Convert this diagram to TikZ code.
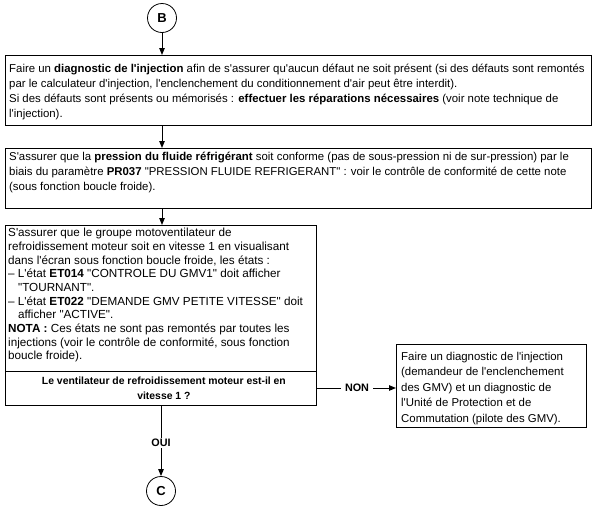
\documentclass[tikz,border=0pt]{standalone}
\usepackage{fontspec}
\setmainfont{Liberation Sans}[Ligatures=TeXOff]
\usetikzlibrary{arrows.meta}
\begin{document}
\begin{tikzpicture}[x=1pt,y=-1pt,
  box/.style={draw, line width=0.8pt, inner sep=0pt, anchor=north west},
  txt/.style={font=\fontsize{11.4}{15}\selectfont, align=left, inner sep=0pt},
  conn/.style={draw, circle, line width=0.8pt, minimum size=29pt, inner sep=0pt, font=\fontsize{13}{14}\selectfont\bfseries},
  arr/.style={line width=1pt, -{Triangle[length=7pt,width=5.5pt]}},
  ln/.style={line width=0.8pt},
  lab/.style={font=\fontsize{10.8}{12}\selectfont\bfseries, inner sep=1pt}]
\useasboundingbox (0,0) rectangle (595,509);
\node[conn] (B) at (162,18) {B};
\node[box, minimum width=586pt, minimum height=70pt] (b1) at (5,55) {};
\node[txt, anchor=north west] (t1) at (9,64) {Faire un \textbf{diagnostic de l'injection} afin de s'assurer qu'aucun défaut ne soit présent (si des défauts sont remontés\\
par le calculateur d'injection, l'enclenchement du conditionnement d'air peut être interdit).\\
Si des défauts sont présents ou mémorisés : \textbf{effectuer les réparations nécessaires} (voir note technique de\\
l'injection).};
\node[box, minimum width=586pt, minimum height=60pt] (b2) at (5,148) {};
\node[txt, anchor=north west] (t2) at (9,152) {S'assurer que la \textbf{pression du fluide réfrigérant} soit conforme (pas de sous-pression ni de sur-pression) par le\\
biais du paramètre \textbf{PR037} "PRESSION FLUIDE REFRIGERANT" : voir le contrôle de conformité de cette note\\
(sous fonction boucle froide).};
\node[box, minimum width=311pt, minimum height=146pt] (b3) at (5,225) {};
\node[txt, anchor=north west, font=\fontsize{11.7}{13.7}\selectfont] (t3) at (8,228) {S'assurer que le groupe motoventilateur de\\
refroidissement moteur soit en vitesse 1 en visualisant\\
dans l'écran sous fonction boucle froide, les états :\\
– L'état \textbf{ET014} "CONTROLE DU GMV1" doit afficher\\
\hspace*{0.85em}"TOURNANT".\\
– L'état \textbf{ET022} "DEMANDE GMV PETITE VITESSE" doit\\
\hspace*{0.85em}afficher "ACTIVE".\\
\textbf{NOTA :} Ces états ne sont pas remontés par toutes les\\
injections (voir le contrôle de conformité, sous fonction\\
boucle froide).};
\node[box, minimum width=311pt, minimum height=34pt] (q3) at (5,371) {};
\node[txt, align=center, font=\fontsize{10.4}{15}\selectfont\bfseries] (tq) at ([xshift=3pt]q3.center) {Le ventilateur de refroidissement moteur est-il en\\vitesse 1 ?};
\node[box, minimum width=190pt, minimum height=83pt] (b4) at (396,344) {};
\node[txt, anchor=north west, font=\fontsize{11.4}{15.5}\selectfont] (t4) at (401,352) {Faire un diagnostic de l'injection\\
(demandeur de l'enclenchement\\
des GMV) et un diagnostic de\\
l'Unité de Protection et de\\
Commutation (pilote des GMV).};
\node[lab] (non) at (357,388) {NON};
\node[lab] (oui) at (161,443) {OUI};
\node[conn] (C) at (161,491) {C};
\draw[arr] (B) -- (B |- b1.north);
\draw[arr] (b1.south -| B) -- (b2.north -| B);
\draw[arr] (b2.south -| B) -- (b3.north -| B);
\draw[ln] (q3.east |- non) -- ([xshift=-3pt]non.west);
\draw[arr] ([xshift=3pt]non.east) -- (b4.west |- non);
\draw[ln] (q3.south -| oui) -- (oui.north);
\draw[arr] (oui.south) -- (C.north);
\end{tikzpicture}
\end{document}
